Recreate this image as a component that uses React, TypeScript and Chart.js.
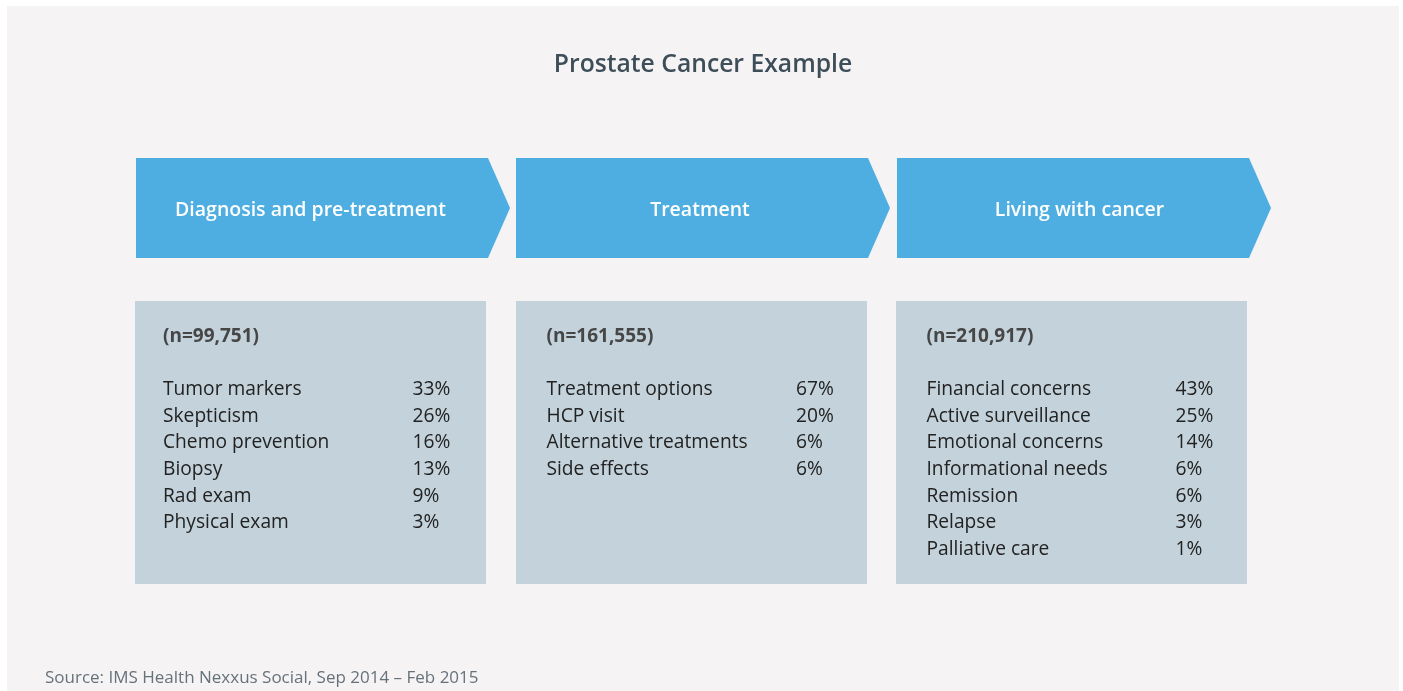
import React, { useEffect, useRef } from "react";
import { Chart, registerables } from "chart.js";

Chart.register(...registerables);

const title = "Prostate Cancer Example";
const sourceNote = "Source: IMS Health Nexxus Social, Sep 2014 \u2013 Feb 2015";

const stages = ["Diagnosis and pre-treatment", "Treatment", "Living with cancer"];
const sampleSizes = ["(n=99,751)", "(n=161,555)", "(n=210,917)"];

const diagnosisTopics = ["Tumor markers", "Skepticism", "Chemo prevention", "Biopsy", "Rad exam", "Physical exam"];
const diagnosisShares = [33, 26, 16, 13, 9, 3];

const treatmentTopics = ["Treatment options", "HCP visit", "Alternative treatments", "Side effects"];
const treatmentShares = [67, 20, 6, 6];

const livingTopics = ["Financial concerns", "Active surveillance", "Emotional concerns", "Informational needs", "Remission", "Relapse", "Palliative care"];
const livingShares = [43, 25, 14, 6, 6, 3, 1];

const stageTopics = [diagnosisTopics, treatmentTopics, livingTopics];
const stageShares = [diagnosisShares, treatmentShares, livingShares];

const W = 1403;
const H = 691;
const FONT = "'Open Sans', 'Lato', sans-serif";

// layout (pixels in the 1403x691 frame, mapped through the chart's scales)
const arrowLefts = [136, 516, 897];
const labelCenters = [310.5, 700, 1079.5];
const boxLefts = [135, 516, 896];
const textLefts = [163, 546.5, 926.5];
const pctLefts = [412.5, 796, 1175.5];

const infographicPlugin = {
  id: "infographic",
  beforeDraw(chart: any) {
    const { ctx, scales } = chart;
    const sx = (v: number) => scales.x.getPixelForValue(v);
    const sy = (v: number) => scales.y.getPixelForValue(v);
    ctx.save();
    ctx.fillStyle = "#ffffff";
    ctx.fillRect(0, 0, W, H);
    ctx.fillStyle = "#f5f3f4";
    ctx.fillRect(sx(7), sy(6), sx(1399) - sx(7), sy(691) - sy(6));

    // title
    ctx.fillStyle = "#3e4e59";
    ctx.font = `600 24.7px ${FONT}`;
    ctx.textAlign = "center";
    ctx.textBaseline = "alphabetic";
    ctx.fillText(title, sx(703), sy(72));

    const rectW = 352;
    const tipW = 22;
    stages.forEach((stage, i) => {
      const left = arrowLefts[i];
      ctx.fillStyle = "#4eaee1";
      ctx.beginPath();
      ctx.moveTo(sx(left), sy(158));
      ctx.lineTo(sx(left + rectW), sy(158));
      ctx.lineTo(sx(left + rectW + tipW), sy(208));
      ctx.lineTo(sx(left + rectW), sy(258));
      ctx.lineTo(sx(left), sy(258));
      ctx.closePath();
      ctx.fill();
      ctx.fillStyle = "#ffffff";
      ctx.font = `600 19.5px ${FONT}`;
      ctx.textAlign = "center";
      ctx.fillText(stage, sx(labelCenters[i]), sy(216));

      const bl = boxLefts[i];
      ctx.fillStyle = "#c3d2db";
      ctx.fillRect(sx(bl), sy(301), sx(bl + 351) - sx(bl), sy(584) - sy(301));

      ctx.textAlign = "left";
      ctx.fillStyle = "#464646";
      ctx.font = `700 19px ${FONT}`;
      ctx.fillText(sampleSizes[i], sx(textLefts[i]), sy(342));

      ctx.fillStyle = "#222222";
      ctx.font = `400 19.2px ${FONT}`;
      const topics = stageTopics[i];
      const shares = stageShares[i];
      topics.forEach((t, j) => {
        const y = 395 + j * 26.65;
        ctx.fillText(t, sx(textLefts[i]), sy(y));
        ctx.fillText(`${shares[j]}%`, sx(pctLefts[i]), sy(y));
      });
    });

    ctx.fillStyle = "#66727a";
    ctx.font = `400 17px ${FONT}`;
    ctx.textAlign = "left";
    ctx.fillText(sourceNote, sx(45), sy(683));
    ctx.restore();
  },
};

export default function App() {
  const ref = useRef<HTMLCanvasElement | null>(null);
  useEffect(() => {
    document.body.style.margin = "0";
    document.body.style.overflow = "hidden";
    if (!ref.current) return;
    const chart = new Chart(ref.current, {
      type: "scatter",
      data: { datasets: [{ data: [], pointRadius: 0 }] },
      options: {
        responsive: false,
        animation: false,
        layout: { padding: 0 },
        plugins: { legend: { display: false }, tooltip: { enabled: false }, title: { display: false } },
        scales: {
          x: { type: "linear", min: 0, max: W, display: false },
          y: { type: "linear", min: 0, max: H, reverse: true, display: false },
        },
      },
      plugins: [infographicPlugin],
    });
    return () => chart.destroy();
  }, []);
  return <canvas ref={ref} width={W} height={H} style={{ display: "block" }} />;
}
